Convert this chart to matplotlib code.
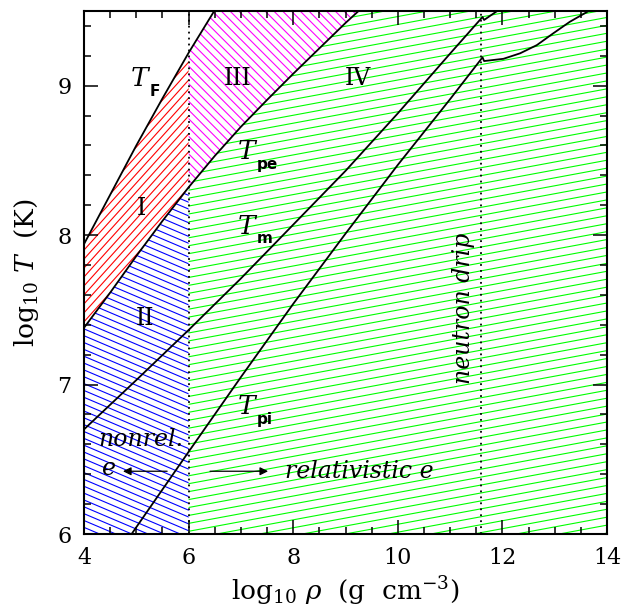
# Phase diagram of the outer envelope: hatched regions I-IV in the (rho, T) plane
import numpy as np
import matplotlib
matplotlib.use('Agg')
import matplotlib.pyplot as plt
from matplotlib.collections import LineCollection

plt.rcParams['font.family'] = ['DejaVu Serif']
plt.rcParams['mathtext.fontset'] = 'custom'
plt.rcParams['mathtext.rm'] = 'DejaVu Serif'
plt.rcParams['mathtext.it'] = 'DejaVu Serif:italic'
plt.rcParams['mathtext.bf'] = 'DejaVu Sans:bold'

# Fermi temperature T_F
rho_F = [4.0, 4.5, 5.0, 5.5, 6.0, 6.49]
T_F = [7.94, 8.27, 8.60, 8.915, 9.22, 9.50]

# electron plasma temperature T_pe
rho_pe = [4.0, 4.5, 5.0, 5.5, 6.0, 6.5, 7.0, 7.5, 8.0, 8.5, 9.0, 9.25]
T_pe = [7.38, 7.615, 7.86, 8.095, 8.32, 8.53, 8.725, 8.905, 9.08, 9.25, 9.42, 9.50]

# melting temperature T_m (kink at neutron drip)
rho_m = [4.0, 5.0, 6.0, 7.0, 8.0, 9.0, 10.0, 11.0, 11.62, 11.65, 11.9]
T_m = [6.70, 7.03, 7.365, 7.71, 8.07, 8.43, 8.815, 9.215, 9.46, 9.44, 9.50]

# ion plasma temperature T_pi
rho_pi = [4.91, 6.0, 7.0, 8.0, 9.0, 10.0, 11.0, 11.62, 11.65, 12.02, 12.34,
          12.66, 12.97, 13.29, 13.55, 13.65]
T_pi = [6.0, 6.55, 7.05, 7.54, 8.01, 8.47, 8.91, 9.19, 9.165, 9.18, 9.217,
        9.272, 9.35, 9.428, 9.48, 9.50]

rho_rel = 6.0      # onset of relativistic electrons
rho_drip = 11.6    # neutron drip
xmin, xmax, ymin, ymax = 4, 14, 6, 9.5

fig = plt.figure(figsize=(6.34, 6.08), dpi=100)
ax = fig.add_axes([84/634, 74/608, 523/634, 523/608])
ax.set_xlim(xmin, xmax)
ax.set_ylim(ymin, ymax)


def hatch(xs, ys, color, angle, step):
    # invisible region, then parallel lines clipped to it
    poly = ax.fill(xs, ys, facecolor='none', edgecolor='none')[0]
    a = np.radians(angle)
    d = np.array([np.cos(a), np.sin(a)])
    n = np.array([-np.sin(a), np.cos(a)])
    segs = [[c*n - 2*d, c*n + 2*d] for c in np.arange(-2, 2, step/523.)]
    lc = LineCollection(segs, colors=color, linewidths=0.8,
                        transform=ax.transAxes, zorder=1)
    lc.set_clip_path(poly)
    ax.add_collection(lc)


def tlabel(x, y, sub):
    ax.text(x, y, 'T', fontsize=19, style='italic', ha='right', va='center')
    ax.annotate(sub, (x, y), xytext=(1.5, -9), textcoords='offset points',
                fontsize=11, family='DejaVu Sans', weight='bold',
                ha='left', va='center')


i_pe6 = rho_pe.index(6.0)
i_F6 = rho_F.index(6.0)
# region I: between T_pe and T_F, rho < 10^6
xs = rho_pe[:i_pe6+1] + rho_F[i_F6::-1]
ys = T_pe[:i_pe6+1] + T_F[i_F6::-1]
hatch(xs, ys, '#ff0000', 48, 6.0)
# region II: below T_pe, rho < 10^6
xs = [xmin] + rho_pe[:i_pe6+1] + [rho_rel]
ys = [ymin] + T_pe[:i_pe6+1] + [ymin]
hatch(xs, ys, '#0000ff', -23, 6.3)
# region III: between T_pe and T_F, rho > 10^6
xs = rho_pe[i_pe6:] + rho_F[:i_F6-1:-1]
ys = T_pe[i_pe6:] + T_F[:i_F6-1:-1]
hatch(xs, ys, '#ff00ff', -45, 6.2)
# region IV: below T_pe, rho > 10^6
xs = [rho_rel] + rho_pe[i_pe6:] + [xmax, xmax]
ys = [ymin] + T_pe[i_pe6:] + [ymax, ymin]
hatch(xs, ys, '#00ff00', 10.5, 7.8)

for x, y in [(rho_F, T_F), (rho_pe, T_pe), (rho_m, T_m), (rho_pi, T_pi)]:
    ax.plot(x, y, color='k', lw=1.3, zorder=3)
for xv in (rho_rel, rho_drip):
    ax.axvline(xv, color='k', lw=1.3, ls=(0, (1, 2.3)), zorder=3)

tlabel(5.224, 9.048, 'F')
tlabel(7.27, 8.558, 'pe')
tlabel(7.27, 8.058, 'm')
tlabel(7.27, 6.853, 'pi')
fs = 17
ax.text(5.09, 8.18, 'I', fontsize=fs, ha='center', va='center')
ax.text(5.17, 7.445, 'II', fontsize=fs, ha='center', va='center')
ax.text(6.94, 9.05, 'III', fontsize=fs, ha='center', va='center')
ax.text(9.24, 9.05, 'IV', fontsize=fs, ha='center', va='center')
ax.text(11.25, 7.51, 'neutron drip', fontsize=17, style='italic',
        rotation=90, ha='center', va='center')
ax.text(5.09, 6.63, 'nonrel.', fontsize=17, style='italic',
        ha='center', va='center')
ax.text(4.48, 6.435, 'e', fontsize=17, style='italic', ha='center', va='center')
ax.text(9.26, 6.42, 'relativistic e', fontsize=17, style='italic',
        ha='center', va='center')
arrow = dict(arrowstyle='-|>', color='k', lw=0.9, shrinkA=0, shrinkB=0,
             mutation_scale=12)
ax.annotate('', xy=(4.745, 6.42), xytext=(5.59, 6.42), arrowprops=arrow)
ax.annotate('', xy=(7.52, 6.42), xytext=(6.41, 6.42), arrowprops=arrow)

ax.set_xticks(np.arange(4, 15, 2))
ax.set_xticks(np.arange(4, 14.01, 0.5), minor=True)
ax.set_yticks([6, 7, 8, 9])
ax.set_yticks(np.arange(6, 9.51, 0.2), minor=True)
ax.tick_params(which='both', direction='in', top=True, right=True,
               labelsize=16, width=1.1)
ax.tick_params(which='major', length=10, pad=9)
ax.tick_params(which='minor', length=5)
for s in ax.spines.values():
    s.set_linewidth(1.5)
    s.set_zorder(5)

ax.set_xlabel(r'log$_{10}$ $\rho$  (g  cm$^{-3}$)', fontsize=19, labelpad=4)
ax.set_ylabel(r'log$_{10}$ $T$  (K)', fontsize=19, labelpad=12)

fig.savefig('out.png', dpi=100)
